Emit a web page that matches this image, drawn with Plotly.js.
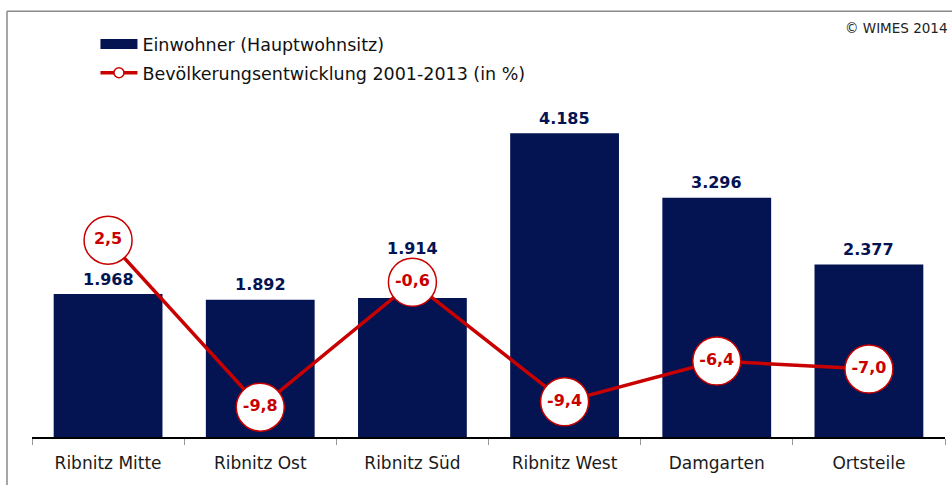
<!DOCTYPE html>
<html>
<head>
<meta charset="utf-8">
<script src="https://cdn.plot.ly/plotly-3.0.1.min.js"></script>
<style>html,body{margin:0;padding:0;background:#fff;}#chart{width:952px;height:485px;}</style>
</head>
<body>
<div id="chart"></div>
<script>
// ---- data ----
var categories = ['Ribnitz Mitte', 'Ribnitz Ost', 'Ribnitz Süd', 'Ribnitz West', 'Damgarten', 'Ortsteile'];
var einwohner = [1968, 1892, 1914, 4185, 3296, 2377];
var entwicklung = [2.5, -9.8, -0.6, -9.4, -6.4, -7.0];
var seriesNames = ['Einwohner (Hauptwohnsitz)', 'Bevölkerungsentwicklung 2001-2013 (in %)'];
var sourceText = '© WIMES 2014';

// ---- styles ----
var NAVY = '#041352';
var RED = '#c80000';
var FONT = 'DejaVu Sans, Verdana, sans-serif';

function fmtThousands(v) { return String(v).replace(/\B(?=(\d{3})+(?!\d))/g, '.'); }
var entwicklungText = entwicklung.map(function (v) { return v.toFixed(1).replace('.', ','); });

var traces = [
  {
    type: 'bar', x: categories, y: einwohner, name: seriesNames[0], showlegend: false,
    marker: { color: NAVY, line: { width: 0 } },
    width: 0.715, hoverinfo: 'x+y'
  },
  {
    type: 'scatter', x: categories, y: entwicklung, yaxis: 'y2', name: seriesNames[1], showlegend: false,
    mode: 'lines+markers+text', text: entwicklungText, textposition: 'middle center', cliponaxis: false,
    line: { color: RED, width: 3.5 },
    marker: { size: 48, color: '#ffffff', line: { color: RED, width: 1.5 } },
    textfont: { family: FONT, size: 16, color: RED, weight: 'bold' }
  },
  // legend entries
  {
    type: 'scatter', x: [categories[0]], y: [null], name: seriesNames[0], mode: 'lines',
    line: { color: NAVY, width: 11 }, legendgroup: 'a', hoverinfo: 'skip'
  },
  {
    type: 'scatter', x: [categories[0]], y: [null], yaxis: 'y2', name: seriesNames[1], mode: 'lines+markers',
    line: { color: RED, width: 3.5 }, marker: { size: 10, color: '#ffffff', line: { color: RED, width: 1.5 } },
    legendgroup: 'b', hoverinfo: 'skip'
  }
];

// bar value labels: placed above each bar; lifted above the line marker where they would collide
var barLabels = categories.map(function (c, i) {
  var lift = (i === 2) ? 50 : 15;
  return {
    xref: 'x', yref: 'y', x: c, y: einwohner[i], text: '<b>' + fmtThousands(einwohner[i]) + '</b>',
    showarrow: false, yanchor: 'middle', yshift: lift,
    font: { family: FONT, size: 16, color: NAVY }
  };
});

var layout = {
  width: 952, height: 485,
  margin: { l: 32, r: 7, t: 74, b: 48 },
  paper_bgcolor: '#ffffff', plot_bgcolor: '#ffffff',
  separators: ',.',
  font: { family: FONT, color: '#1a1a1a' },
  bargap: 0.285,
  showlegend: true,
  legend: {
    x: 0.0695, xanchor: 'left', y: 1.132, yanchor: 'top',
    font: { family: FONT, size: 17.5, color: '#111' },
    bgcolor: 'rgba(0,0,0,0)', traceorder: 'grouped', tracegroupgap: 3,
    itemwidth: 37
  },
  xaxis: {
    type: 'category', tickson: 'boundaries', ticks: 'outside', ticklen: 6, tickcolor: '#999', tickwidth: 1,
    showline: true, linecolor: '#000', linewidth: 1.5, showgrid: false, zeroline: false,
    tickfont: { family: FONT, size: 17, color: '#1a1a1a' }, ticklabelstandoff: 10,
    fixedrange: true
  },
  xaxis2: {
    overlaying: 'x', anchor: 'y', side: 'bottom', range: [-0.5, categories.length - 0.5],
    tickmode: 'linear', tick0: -0.5, dtick: 1, ticks: 'inside', ticklen: 6, tickcolor: '#999', tickwidth: 1,
    showticklabels: false, showline: false, showgrid: false, zeroline: false, fixedrange: true
  },
  yaxis: {
    range: [0, 5000], visible: false, showgrid: false, zeroline: false, fixedrange: true
  },
  yaxis2: {
    range: [-12.0, 14.74], overlaying: 'y', side: 'right', visible: false, showgrid: false, zeroline: false, fixedrange: true
  },
  shapes: [
    { type: 'line', xref: 'paper', yref: 'paper', x0: -0.0274, x1: 1.01, y0: 1.173, y1: 1.173, line: { color: '#888', width: 1.5 } },
    { type: 'line', xref: 'paper', yref: 'paper', x0: -0.0274, x1: -0.0274, y0: 1.173, y1: -0.14, line: { color: '#888', width: 1.5 } }
  ],
  annotations: [
    { text: sourceText, xref: 'paper', yref: 'paper', x: 1.0055, xanchor: 'right', y: 1.127, yanchor: 'middle',
      showarrow: false, font: { family: FONT, size: 13.5, color: '#222' } }
  ].concat(barLabels)
};

Plotly.newPlot('chart', traces, layout, { displayModeBar: false, staticPlot: true });
</script>
</body>
</html>
